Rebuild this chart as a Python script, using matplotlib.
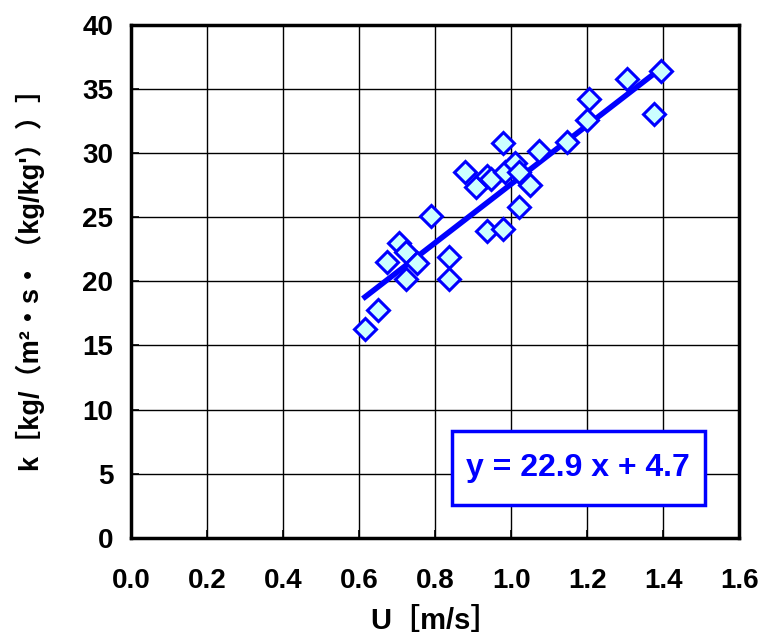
# k vs U scatter with linear fit
import numpy as np
import matplotlib.pyplot as plt
from matplotlib.patches import Rectangle

# data
u = [0.615, 0.648, 0.674, 0.705, 0.723, 0.751, 0.723, 0.788, 0.837, 0.837,
     0.878, 0.907, 0.935, 0.946, 0.935, 0.977, 0.977, 0.984, 1.010, 1.019,
     1.019, 1.049, 1.074, 1.146, 1.204, 1.200, 1.304, 1.376, 1.395]
k = [16.3, 17.8, 21.5, 23.0, 22.3, 21.4, 20.2, 25.1, 21.9, 20.2,
     28.5, 27.4, 28.2, 27.95, 23.9, 30.8, 24.1, 28.5, 29.25, 28.55,
     25.8, 27.5, 30.2, 30.9, 34.2, 32.6, 35.75, 33.05, 36.4]

slope = 22.9
intercept = 4.7

x_ticks = [0.0, 0.2, 0.4, 0.6, 0.8, 1.0, 1.2, 1.4, 1.6]
y_ticks = [0, 5, 10, 15, 20, 25, 30, 35, 40]

plt.rcParams['font.family'] = ['Liberation Sans', 'DejaVu Sans']

fig = plt.figure(figsize=(7.63, 6.41), dpi=100)
ax = fig.add_axes([0.172, 0.161, 0.797, 0.8])

ax.set_xlim(0, 1.6)
ax.set_ylim(0, 40)
ax.set_xticks(x_ticks)
ax.set_yticks(y_ticks)
ax.set_xticklabels([f'{v:.1f}' for v in x_ticks], fontsize=20, fontweight='bold')
ax.set_yticklabels([str(v) for v in y_ticks], fontsize=20, fontweight='bold')
ax.tick_params(direction='in', length=6, width=1.2)
ax.tick_params(axis='y', pad=13)
ax.tick_params(axis='x', pad=22)
ax.grid(True, color='black', linewidth=1.0)
ax.set_axisbelow(True)
for s in ax.spines.values():
    s.set_linewidth(2.5)

# fit line over data range
xs = np.array([min(u), max(u)])
ax.plot(xs, slope * xs + intercept, color='#0000FF', linewidth=4, zorder=3)

ax.plot(u, k, linestyle='none', marker='D', markersize=11,
        markerfacecolor='#CCFFFF', markeredgecolor='#0000FF',
        markeredgewidth=2.2, zorder=4)

# equation box
ax.add_patch(Rectangle((0.527, 0.064), 0.416, 0.145, transform=ax.transAxes,
                       facecolor='white', edgecolor='#0000FF', linewidth=2.5,
                       zorder=5))
ax.text(0.735, 0.137, f'y = {slope} x + {intercept}', color='#0000FF',
        fontsize=23, fontweight='bold', ha='center', va='center',
        transform=ax.transAxes, zorder=6)

fam = ['Liberation Sans', 'Noto Sans CJK JP', 'DejaVu Sans']
ax.set_xlabel('U［m/s］', fontsize=21, fontweight='bold', family=fam)
ax.set_ylabel("k［kg/（m²・s・（kg/kg'））］", fontsize=19.5, fontweight='bold',
              family=fam)
ax.xaxis.set_label_coords(0.5, -0.135)
ax.yaxis.set_label_coords(-0.145, 0.52)

plt.savefig('out.png', dpi=100)
plt.close()
